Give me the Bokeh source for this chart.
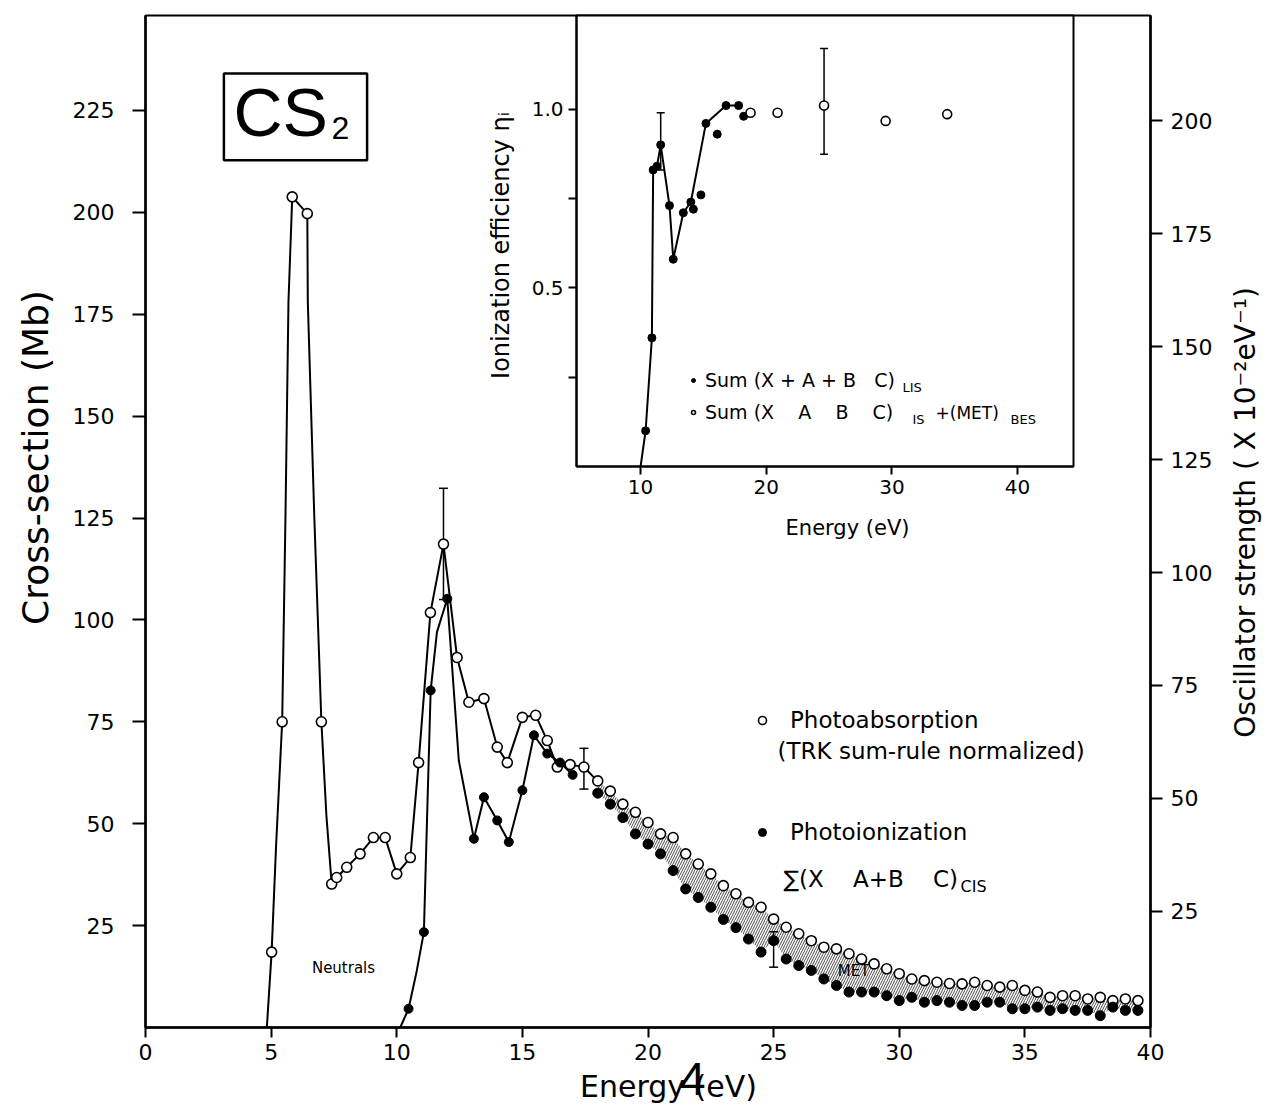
import math
from bokeh.plotting import figure
from bokeh.models import (Range1d, LinearAxis, FixedTicker, Label, BoxAnnotation,
                          Whisker, TeeHead, ColumnDataSource, Legend, LegendItem)
from bokeh.embed import file_html
from bokeh.resources import INLINE

FONT = "DejaVu Sans"
W, H = 1262, 1107
NB = "\u00a0"

# ---------------- main panel data ----------------
pa_line_E = [4.83, 5.02, 5.20, 5.44, 5.57, 5.69, 5.84, 6.44, 6.46, 6.72, 7.00, 7.20, 7.41, 7.61,
             8.01, 8.54, 9.07, 9.54, 10.00, 10.54, 10.87, 11.34, 11.86, 12.40, 12.87, 13.47,
             14.00, 14.40, 15.00, 15.53, 15.99, 16.39, 16.90, 17.45, 17.98]
pa_line_val = [0.0, 18.5, 45.0, 75.0, 125.0, 178.0, 203.8, 199.7, 178.0, 125.0, 75.0, 52.0, 35.2, 36.8,
               39.3, 42.6, 46.6, 46.6, 37.7, 41.7, 65.0, 101.8, 118.6, 90.8, 79.8, 80.7,
               68.8, 65.0, 76.1, 76.6, 70.4, 63.9, 64.5, 63.9, 60.5]
pa_mark_E = [5.02, 5.44, 5.84, 6.44, 7.00, 7.41, 7.61, 8.01, 8.54, 9.07, 9.54, 10.00, 10.54, 10.87,
             11.34, 11.86, 12.40, 12.87, 13.47, 14.00, 14.40, 15.00, 15.53, 15.99, 16.39, 16.90, 17.45]
pa_mark_val = [18.5, 75.0, 203.8, 199.7, 75.0, 35.2, 36.8, 39.3, 42.6, 46.6, 46.6, 37.7, 41.7, 65.0,
               101.8, 118.6, 90.8, 79.8, 80.7, 68.8, 65.0, 76.1, 76.6, 70.4, 63.9, 64.5, 63.9]

pi_line_E = [10.14, 10.47, 10.80, 11.08, 11.20, 11.35, 11.60, 12.01, 12.47, 13.07, 13.47, 14.00,
             14.46, 15.00, 15.46, 15.99, 16.50, 17.00]
pi_line_val = [0.0, 4.6, 14.0, 23.4, 50.0, 82.7, 97.0, 105.2, 65.5, 46.3, 56.5, 50.8,
               45.5, 58.2, 71.7, 67.2, 65.0, 62.0]
pi_mark_E = [10.47, 11.08, 11.35, 12.01, 13.07, 13.47, 14.00, 14.46, 15.00, 15.46, 15.99, 16.50, 17.00]
pi_mark_val = [4.6, 23.4, 82.7, 105.2, 46.3, 56.5, 50.8, 45.5, 58.2, 71.7, 67.2, 65.0, 62.0]

tail_E = [18.0, 18.5, 19.0, 19.5, 20.0, 20.5, 21.0, 21.5, 22.0, 22.5, 23.0, 23.5, 24.0, 24.5,
          25.0, 25.5, 26.0, 26.5, 27.0, 27.5, 28.0, 28.5, 29.0, 29.5, 30.0, 30.5, 31.0, 31.5,
          32.0, 32.5, 33.0, 33.5, 34.0, 34.5, 35.0, 35.5, 36.0, 36.5, 37.0, 37.5, 38.0, 38.5,
          39.0, 39.5]
tail_pa = [60.5, 58.0, 54.8, 52.8, 50.3, 47.5, 46.6, 42.6, 40.1, 37.7, 34.8, 32.8, 30.7, 29.5,
           26.6, 24.6, 23.0, 21.3, 19.7, 19.3, 18.1, 16.8, 15.6, 14.4, 13.2, 11.9, 11.5, 11.1,
           10.8, 10.7, 11.1, 10.3, 9.9, 10.3, 9.1, 8.7, 7.4, 7.8, 7.8, 7.0, 7.4, 6.6, 7.0, 6.6]
tail_pi = [57.5, 54.8, 51.5, 47.5, 45.0, 42.6, 38.5, 34.0, 31.9, 29.5, 26.5, 24.5, 21.7, 18.5,
           21.3, 16.8, 15.2, 14.0, 11.9, 10.3, 8.7, 8.7, 8.7, 7.8, 6.6, 7.4, 6.2, 6.6,
           6.2, 5.4, 5.4, 6.2, 6.2, 4.6, 4.6, 5.0, 4.2, 4.6, 4.2, 4.2, 2.9, 5.0, 4.2, 4.2]

err_E = [11.86, 17.45, 25.0]
err_lo = [105.0, 58.5, 14.8]
err_hi = [132.3, 68.5, 23.5]

x_ticks = [0, 5, 10, 15, 20, 25, 30, 35, 40]
left_ticks = [25, 50, 75, 100, 125, 150, 175, 200, 225]
right_ticks = [25, 50, 75, 100, 125, 150, 175, 200]

# ---------------- inset data ----------------
in_line_E = [10.0, 10.4, 10.9, 11.0, 11.3, 11.6, 12.3, 12.6, 13.4, 14.0, 15.2, 16.8, 17.8]
in_line_val = [0.0, 0.10, 0.36, 0.83, 0.84, 0.90, 0.73, 0.58, 0.71, 0.74, 0.96, 1.01, 1.01]
in_f_E = [10.4, 10.9, 11.0, 11.3, 11.6, 12.3, 12.6, 13.4, 14.0, 14.2, 14.8, 15.2, 16.1, 16.8, 17.8, 18.2]
in_f_val = [0.10, 0.36, 0.83, 0.84, 0.90, 0.73, 0.58, 0.71, 0.74, 0.72, 0.76, 0.96, 0.93, 1.01, 1.01, 0.98]
in_o_E = [18.75, 20.9, 24.6, 29.5, 34.4]
in_o_val = [0.99, 0.99, 1.01, 0.967, 0.986]
in_err_E = [11.6, 24.6]
in_err_lo = [0.83, 0.874]
in_err_hi = [0.99, 1.17]
in_x_ticks = [10, 20, 30, 40]
in_y_ticks = [0.25, 0.5, 0.75, 1.0]


def style_axis(ax, size="22px", tick_out=10, standoff=6, lw=2.5):
    ax.axis_line_width = lw
    ax.axis_line_color = "black"
    ax.major_tick_line_color = "black"
    ax.major_tick_line_width = 2
    ax.minor_tick_line_color = None
    ax.major_tick_in = 0
    ax.major_tick_out = tick_out
    ax.major_label_standoff = standoff
    ax.major_label_text_font = FONT
    ax.major_label_text_font_size = size
    ax.major_label_text_color = "black"


# ---------------- main figure ----------------
p = figure(width=W, height=H, x_range=Range1d(0, 40), y_range=Range1d(0, 248.3),
           output_backend="svg", toolbar_location=None,
           min_border_left=145, min_border_right=112, min_border_top=15, min_border_bottom=80)
p.xgrid.visible = False
p.ygrid.visible = False
p.outline_line_color = "black"
p.outline_line_width = 2
p.background_fill_color = "white"
p.border_fill_color = "white"

style_axis(p.xaxis[0], tick_out=10, standoff=6)
p.xaxis[0].ticker = FixedTicker(ticks=x_ticks)
style_axis(p.yaxis[0], tick_out=13, standoff=18)
p.yaxis[0].ticker = FixedTicker(ticks=left_ticks)

p.extra_y_ranges = {"osc": Range1d(-0.7, 223.3)}
rax = LinearAxis(y_range_name="osc", ticker=FixedTicker(ticks=right_ticks))
style_axis(rax, tick_out=12, standoff=8)
p.add_layout(rax, "right")

p.varea(x=tail_E, y1=tail_pi, y2=tail_pa, fill_alpha=0, hatch_pattern="/",
        hatch_color="black", hatch_alpha=0.7, hatch_scale=5, hatch_weight=1)

p.line(pa_line_E, pa_line_val, line_color="black", line_width=2)
p.line(pi_line_E, pi_line_val, line_color="black", line_width=2)

p.add_layout(Whisker(source=ColumnDataSource(dict(base=err_E, lower=err_lo, upper=err_hi)),
                     base="base", lower="lower", upper="upper", line_color="black", line_width=1.5,
                     upper_head=TeeHead(size=9, line_width=1.5, line_color="black"),
                     lower_head=TeeHead(size=9, line_width=1.5, line_color="black")))

p.scatter(pa_mark_E, pa_mark_val, marker="circle", size=10, fill_color="white",
          line_color="black", line_width=1.6)
pa_r = p.scatter(tail_E, tail_pa, marker="circle", size=10, fill_color="white",
                 line_color="black", line_width=1.6)
p.scatter(pi_mark_E, pi_mark_val, marker="circle", size=9, fill_color="black", line_color="black")
pi_r = p.scatter(tail_E, tail_pi, marker="circle", size=10, fill_color="black", line_color="black")

legend = Legend(items=[LegendItem(label="Photoabsorption", renderers=[pa_r]),
                       LegendItem(label="Photoionization", renderers=[pi_r])],
                location=(607, 182), orientation="vertical",
                padding=0, margin=0, spacing=86, label_standoff=18,
                glyph_width=20, glyph_height=26, label_height=26,
                border_line_alpha=0, background_fill_alpha=0,
                label_text_font=FONT, label_text_font_size="23px", label_text_color="black")
p.add_layout(legend, "center")

p.add_layout(BoxAnnotation(left=3.12, right=8.82, bottom=212.8, top=234.1,
                           fill_alpha=0, line_color="black", line_alpha=1, line_width=2.5))

# ---------------- inset figure (same canvas, transparent borders) ----------------
ins = figure(width=W, height=H, x_range=Range1d(4.9, 44.45), y_range=Range1d(0, 1.262),
             output_backend="svg", toolbar_location=None,
             min_border_left=576, min_border_right=W - 1073, min_border_top=15,
             min_border_bottom=H - 466)
ins.margin = (-H, 0, 0, 0)
ins.xgrid.visible = False
ins.ygrid.visible = False
ins.outline_line_color = "black"
ins.outline_line_width = 2
ins.background_fill_color = "white"
ins.border_fill_alpha = 0

style_axis(ins.xaxis[0], size="20px", tick_out=8, standoff=5, lw=2)
ins.xaxis[0].ticker = FixedTicker(ticks=in_x_ticks)
style_axis(ins.yaxis[0], size="20px", tick_out=8, standoff=5, lw=2)
ins.yaxis[0].ticker = FixedTicker(ticks=in_y_ticks)
ins.yaxis[0].major_label_overrides = {0.25: "", 0.5: "0.5", 0.75: "", 1.0: "1.0"}

ins.line(in_line_E, in_line_val, line_color="black", line_width=2)
ins.add_layout(Whisker(source=ColumnDataSource(dict(base=in_err_E, lower=in_err_lo, upper=in_err_hi)),
                       base="base", lower="lower", upper="upper", line_color="black", line_width=1.5,
                       upper_head=TeeHead(size=8, line_width=1.5, line_color="black"),
                       lower_head=TeeHead(size=8, line_width=1.5, line_color="black")))
f_r = ins.scatter(in_f_E, in_f_val, marker="circle", size=8, fill_color="black", line_color="black")
o_r = ins.scatter(in_o_E, in_o_val, marker="circle", size=9, fill_color="white",
                  line_color="black", line_width=1.6)

ilegend = Legend(items=[LegendItem(label="Sum (X + A + B" + NB * 3 + "C)", renderers=[f_r]),
                        LegendItem(label="Sum (X" + NB * 4 + "A" + NB * 4 + "B" + NB * 4 + "C)",
                                   renderers=[o_r])],
                 location=(112, 43), orientation="vertical",
                 padding=0, margin=0, spacing=10, label_standoff=7,
                 glyph_width=10, glyph_height=22, label_height=22,
                 border_line_alpha=0, background_fill_alpha=0,
                 label_text_font=FONT, label_text_font_size="19px", label_text_color="black")
ins.add_layout(ilegend, "center")

# ---------------- text overlay (pixel coordinates of the page) ----------------
ov = figure(width=W, height=H, x_range=Range1d(0, W), y_range=Range1d(H, 0),
            x_axis_type=None, y_axis_type=None, output_backend="svg", toolbar_location=None,
            min_border=0, min_border_left=0, min_border_right=0, min_border_top=0, min_border_bottom=0)
ov.margin = (-H, 0, 0, 0)
ov.grid.visible = False
ov.outline_line_color = None
ov.background_fill_alpha = 0
ov.border_fill_alpha = 0


def lab(x, y, text, size, font=FONT, align="left", angle=0.0):
    ov.add_layout(Label(x=x, y=y, text=text, text_font=font, text_font_size=size,
                        text_align=align, text_baseline="middle", angle=angle,
                        text_color="black"))


lab(35, 457, "Cross-section (Mb)", "36px", align="center", angle=math.pi / 2)
lab(1245, 512, "Oscillator strength ( X 10\u207b\u00b2eV\u207b\u00b9)", "28px", align="center",
    angle=math.pi / 2)
lab(668, 1086, "Energy (eV)", "30px", align="center")
lab(692, 1078, "4", "47px", font="Liberation Sans", align="center")

lab(233, 111, "CS", "68px", font="Liberation Sans")
lab(331, 127, "2", "32px", font="Liberation Sans")

lab(777, 750, "(TRK sum-rule normalized)", "23px")
lab(783, 878, "\u2211(X" + NB * 4 + "A+B" + NB * 4 + "C)", "23px")
lab(960, 886, "CIS", "16px")
lab(343, 967, "Neutrals", "15px", align="center")
lab(853, 970, "MET", "15px", align="center")

lab(847, 527, "Energy (eV)", "21px", align="center")
lab(500, 245, "Ionization efficiency \u03b7\u1d62", "24px", align="center", angle=math.pi / 2)
lab(902, 387, "LIS", "13px")
lab(912, 419, "IS", "13px")
lab(935, 412, "+(MET)", "17px")
lab(1010, 419, "BES", "13px")

open("out.html", "w").write(file_html([p, ins, ov], INLINE))
